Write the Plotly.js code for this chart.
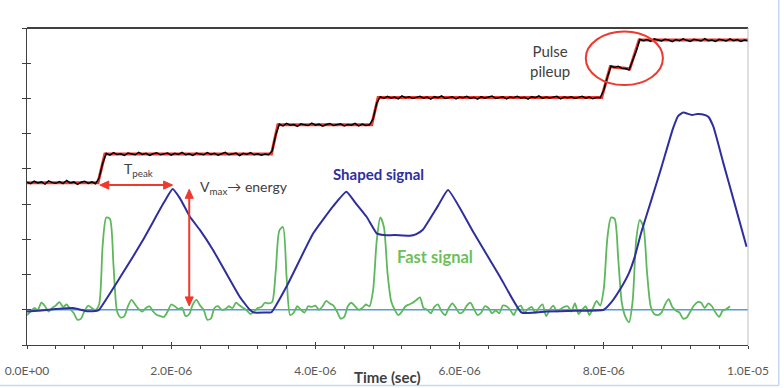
<!DOCTYPE html>
<html><head><meta charset="utf-8">
<script src="https://cdn.plot.ly/plotly-3.0.1.min.js"></script>
<style>html,body{margin:0;padding:0;background:#fff}#chart{width:784px;height:388px}</style>
</head><body><div id="chart"></div>
<script>
// x in microseconds, shown as seconds on the tick labels
const tickVals = [0, 2, 4, 6, 8, 10];
const tickText = ['0.0E+00', '2.0E-06', '4.0E-06', '6.0E-06', '8.0E-06', '1.0E-05'];

// ideal staircase (red)
const stepT = [0, 0.985, 1.08, 3.39, 3.48, 4.78, 4.87, 7.97, 8.09, 8.36, 8.49, 10];
const stepV = [4.61, 4.61, 5.42, 5.42, 6.25, 6.25, 7.03, 7.03, 7.90, 7.84, 8.66, 8.66];

// measured preamp output (black), one sample every 0.05 us from 0
const sampleDt = 0.05;
const measuredV = [
 4.62, 4.58, 4.65, 4.60, 4.63, 4.57, 4.66, 4.61, 4.59, 4.64,
 4.58, 4.67, 4.60, 4.63, 4.56, 4.62, 4.65, 4.59, 4.63, 4.58,
 4.74, 5.16, 5.44, 5.39, 5.46, 5.41, 5.43, 5.38, 5.45, 5.42,
 5.40, 5.47, 5.41, 5.44, 5.38, 5.43, 5.46, 5.40, 5.42, 5.45,
 5.39, 5.44, 5.41, 5.47, 5.40, 5.43, 5.38, 5.45, 5.42, 5.40,
 5.46, 5.41, 5.44, 5.39, 5.43, 5.47, 5.40, 5.42, 5.45, 5.38,
 5.44, 5.41, 5.46, 5.40, 5.43, 5.39, 5.42, 5.40, 5.51, 5.97,
 6.27, 6.22, 6.29, 6.24, 6.26, 6.21, 6.28, 6.25, 6.23, 6.30,
 6.24, 6.27, 6.21, 6.26, 6.29, 6.23, 6.25, 6.28, 6.22, 6.26,
 6.24, 6.29, 6.22, 6.27, 6.23, 6.25, 6.42, 6.86, 7.05, 7.00,
 7.06, 7.01, 7.04, 6.99, 7.07, 7.02, 7.05, 7.00, 7.03, 7.06,
 7.01, 7.04, 6.98, 7.05, 7.02, 7.07, 7.00, 7.03, 7.05, 6.99,
 7.04, 7.02, 7.06, 7.00, 7.03, 6.98, 7.05, 7.01, 7.04, 7.07,
 7.00, 7.03, 7.05, 6.99, 7.04, 7.02, 7.06, 7.01, 7.03, 6.98,
 7.05, 7.02, 7.07, 7.00, 7.04, 7.01, 7.03, 7.06, 6.99, 7.04,
 7.02, 7.05, 7.00, 7.03, 7.06, 7.01, 7.04, 6.99, 7.03, 7.02,
 7.24, 7.61, 7.92, 7.88, 7.91, 7.86, 7.85, 7.81, 8.06, 8.35,
 8.68, 8.64, 8.67, 8.62, 8.69, 8.65, 8.63, 8.68, 8.66, 8.61,
 8.67, 8.64, 8.69, 8.65, 8.62, 8.68, 8.66, 8.63, 8.70, 8.64,
 8.66, 8.62, 8.68, 8.65, 8.63, 8.69, 8.64, 8.67, 8.62, 8.66,
 8.64
];

// fast signal (green), one sample every 0.05 us from 0
const fastV = [
 0.85, 0.95, 1.05, 1.00, 1.20, 1.10, 0.95, 1.05, 1.12, 1.22,
 1.08, 1.15, 1.02, 0.90, 0.72, 0.75, 0.98, 1.12, 1.05, 1.00,
 1.15, 2.85, 3.62, 3.58, 2.25, 0.95, 0.78, 0.82, 1.10, 1.28,
 1.15, 1.02, 0.95, 1.05, 1.10, 0.95, 0.85, 0.82, 0.80, 0.95,
 1.15, 1.10, 1.02, 1.06, 0.82, 0.88, 1.15, 1.28, 1.12, 1.00,
 0.72, 0.75, 1.05, 1.10, 1.00, 1.02, 1.10, 1.05, 1.20, 1.12,
 1.05, 0.98, 0.88, 0.95, 1.05, 1.08, 1.20, 1.18, 1.22, 2.10,
 3.25, 3.35, 1.95, 0.85, 0.92, 1.10, 1.00, 0.92, 1.10, 1.08,
 1.12, 1.00, 1.10, 1.25, 1.18, 1.12, 0.95, 0.75, 0.80, 1.10,
 1.20, 1.10, 1.00, 1.05, 1.15, 1.10, 1.55, 2.95, 3.62, 3.35,
 2.05, 1.25, 1.00, 0.85, 0.95, 1.10, 1.15, 1.20, 1.28, 1.35,
 1.05, 1.00, 0.90, 1.08, 1.15, 0.95, 0.85, 1.05, 1.18, 1.05,
 0.90, 0.95, 1.12, 1.20, 1.02, 0.85, 0.92, 1.10, 1.05, 0.90,
 0.98, 0.90, 1.12, 1.10, 1.00, 0.85, 1.05, 1.12, 0.92, 1.02,
 1.08, 0.92, 1.05, 1.15, 0.82, 1.00, 1.12, 0.95, 1.02, 1.08,
 1.10, 0.95, 1.18, 0.88, 1.00, 1.10, 0.85, 1.05, 1.25, 1.12,
 1.60, 3.05, 3.62, 3.58, 2.45, 1.20, 0.80, 0.65, 1.25, 3.00,
 3.55, 3.35, 2.05, 1.10, 0.88, 0.85, 0.92, 1.15, 1.30, 1.08,
 0.98, 0.92, 0.75, 0.78, 0.95, 1.12, 1.22, 1.20, 1.05, 1.18,
 1.10, 0.92, 0.80, 0.98, 1.02, 1.10
];

// shaped signal (dark blue)
const shapedT = [0, 0.2, 0.4, 0.64, 0.83, 0.97, 1.0, 1.3, 1.6, 1.9,
 2.02, 2.12, 2.26, 2.40, 2.58, 2.95, 3.09, 3.15, 3.30, 3.39,
 3.60, 3.97, 4.25, 4.43, 4.55, 4.71, 4.85, 4.95, 5.10, 5.31,
 5.40, 5.49, 5.70, 5.84, 6.20, 6.56, 6.86, 7.20, 7.60, 8.00,
 8.10, 8.22, 8.35, 8.43, 8.52, 8.66, 8.80, 8.96, 9.03, 9.10,
 9.22, 9.30, 9.36, 9.45, 9.52, 9.66, 9.80, 9.98];
const shapedV = [0.95, 0.98, 1.02, 1.05, 0.96, 0.97, 1.0, 1.95, 2.95, 4.05,
 4.43, 4.17, 3.64, 3.26, 2.70, 1.37, 1.0, 0.92, 0.92, 0.93,
 1.66, 3.17, 3.95, 4.35, 4.05, 3.64, 3.17, 3.12, 3.12, 3.10,
 3.15, 3.27, 3.95, 4.40, 3.17, 1.94, 0.92, 0.95, 0.97, 1.0,
 1.2, 1.56, 2.05, 2.51, 3.2, 4.12, 5.05, 6.15, 6.50, 6.60,
 6.53, 6.56, 6.55, 6.48, 6.20, 5.15, 4.12, 2.79];

// zero line (light blue)
const baseT = [0, 10];
const baseV = [1, 1];

const FONT = 'Lato, Carlito, "Open Sans", sans-serif';
const DARK = '#404040';
const RED = '#EE3A2E';

const traces = [
  {x: baseT, y: baseV, mode: 'lines', line: {color: '#5B9BD5', width: 1.6}, hoverinfo: 'skip'},
  {y: fastV, x0: 0, dx: sampleDt, mode: 'lines', line: {color: '#5DB85C', width: 1.8, shape: 'spline', smoothing: 0.7}, hoverinfo: 'skip'},
  {x: shapedT, y: shapedV, mode: 'lines', line: {color: '#2E2E9F', width: 2, shape: 'spline', smoothing: 0.4}, hoverinfo: 'skip'},
  {x: stepT, y: stepV, mode: 'lines', line: {color: RED, width: 3}, hoverinfo: 'skip'},
  {y: measuredV, x0: 0, dx: sampleDt, mode: 'lines', line: {color: '#000000', width: 1.5}, hoverinfo: 'skip'},
  {x: [], y: [], xaxis: 'x2', yaxis: 'y2', mode: 'lines', hoverinfo: 'skip'}
];

// arrowhead triangles (data units; 1 px = 1/72.07 us horizontally, 1/35.22 vertically)
function tri(pts) { return 'M' + pts.map(p => p[0] + ',' + p[1]).join(' L') + ' Z'; }

const layout = {
  width: 784, height: 388,
  margin: {l: 27, r: 36, t: 28, b: 43, pad: 0},
  paper_bgcolor: '#ffffff', plot_bgcolor: '#ffffff',
  showlegend: false,
  font: {family: FONT, color: DARK, size: 12},
  xaxis: {
    range: [0, 10], tickvals: tickVals, ticktext: tickText,
    ticks: 'outside', ticklen: 3, tickcolor: DARK, tickwidth: 1,
    minor: {dtick: 0.4, tick0: 0, ticks: 'outside', ticklen: 3, tickcolor: DARK, showgrid: false},
    showline: true, linecolor: DARK, linewidth: 1, showgrid: false, zeroline: false,
    tickfont: {family: FONT, size: 12, color: '#595959'}, ticklabelstandoff: 12,
    fixedrange: true
  },
  yaxis: {
    range: [0, 9], tick0: 0, dtick: 1, ticks: 'outside', ticklen: 4, tickcolor: DARK,
    showticklabels: false, showline: true, linecolor: DARK, linewidth: 1,
    showgrid: false, zeroline: false, fixedrange: true
  },
  xaxis2: {overlaying: 'x', anchor: 'y2', range: [0, 10], tickvals: tickVals, ticks: 'inside', ticklen: 3,
    tickcolor: DARK, showticklabels: false, showline: false, showgrid: false, zeroline: false},
  yaxis2: {overlaying: 'y', anchor: 'x2', side: 'left', range: [0, 9], tick0: 0, dtick: 1, ticks: 'inside', ticklen: 4,
    tickcolor: DARK, showticklabels: false, showline: false, showgrid: false, zeroline: false},
  shapes: [
    {type: 'line', xref: 'paper', yref: 'paper', x0: 0, x1: 1, y0: 1, y1: 1, line: {color: '#000000', width: 1.3}},
    {type: 'line', xref: 'paper', yref: 'paper', x0: 1, x1: 1, y0: 0, y1: 1, line: {color: '#BFBFBF', width: 1}},
    {type: 'line', xref: 'paper', yref: 'paper', x0: 1.0427, x1: 1.0427, y0: -0.128, y1: 1.09, line: {color: '#C6D9F0', width: 1.5}},
    {type: 'line', xref: 'paper', yref: 'paper', x0: -0.04, x1: 1.0427, y0: -0.128, y1: -0.128, line: {color: '#C6D9F0', width: 1.5}},
    {type: 'circle', xref: 'x', yref: 'y', x0: 7.75, x1: 8.82, y0: 7.38, y1: 8.90, line: {color: RED, width: 2}},
    // T_peak double arrow
    {type: 'line', xref: 'x', yref: 'y', x0: 1.10, x1: 1.93, y0: 4.54, y1: 4.54, line: {color: RED, width: 2}},
    {type: 'path', xref: 'x', yref: 'y', path: tri([[1.01, 4.54], [1.135, 4.655], [1.135, 4.425]]), fillcolor: RED, line: {color: RED, width: 1}},
    {type: 'path', xref: 'x', yref: 'y', path: tri([[2.02, 4.54], [1.895, 4.655], [1.895, 4.425]]), fillcolor: RED, line: {color: RED, width: 1}},
    // V_max double arrow
    {type: 'line', xref: 'x', yref: 'y', x0: 2.25, x1: 2.25, y0: 1.30, y1: 4.23, line: {color: RED, width: 2}},
    {type: 'path', xref: 'x', yref: 'y', path: tri([[2.25, 4.42], [2.194, 4.165], [2.306, 4.165]]), fillcolor: RED, line: {color: RED, width: 1}},
    {type: 'path', xref: 'x', yref: 'y', path: tri([[2.25, 1.11], [2.194, 1.365], [2.306, 1.365]]), fillcolor: RED, line: {color: RED, width: 1}}
  ],
  annotations: [
    {x: 0.5, y: -0.101, xref: 'paper', yref: 'paper', text: '<b>Time (sec)</b>', showarrow: false,
     font: {family: FONT, size: 15, color: DARK}, xanchor: 'center', yanchor: 'middle'},
    {x: 1.55, y: 4.99, xref: 'x', yref: 'y', text: 'T<sub>peak</sub>', showarrow: false,
     font: {family: FONT, size: 14, color: DARK}, xanchor: 'center', yanchor: 'middle'},
    {x: 3.01, y: 4.46, xref: 'x', yref: 'y', text: 'V<sub>max</sub>\u2192 energy', showarrow: false,
     font: {family: FONT, size: 14, color: DARK}, xanchor: 'center', yanchor: 'middle'},
    {x: 4.88, y: 4.86, xref: 'x', yref: 'y', text: '<b>Shaped signal</b>', showarrow: false,
     font: {family: FONT, size: 15, color: '#2E2E9F'}, xanchor: 'center', yanchor: 'middle'},
    {x: 5.66, y: 2.50, xref: 'x', yref: 'y', text: '<b>Fast signal</b>', showarrow: false,
     font: {family: FONT, size: 16.5, color: '#6DBF5B'}, xanchor: 'center', yanchor: 'middle'},
    {x: 7.25, y: 8.06, xref: 'x', yref: 'y', text: 'Pulse<br>pileup', showarrow: false,
     font: {family: FONT, size: 15, color: DARK}, xanchor: 'center', yanchor: 'middle'}
  ]
};

Plotly.newPlot('chart', traces, layout, {displayModeBar: false, staticPlot: true});
</script></body></html>
